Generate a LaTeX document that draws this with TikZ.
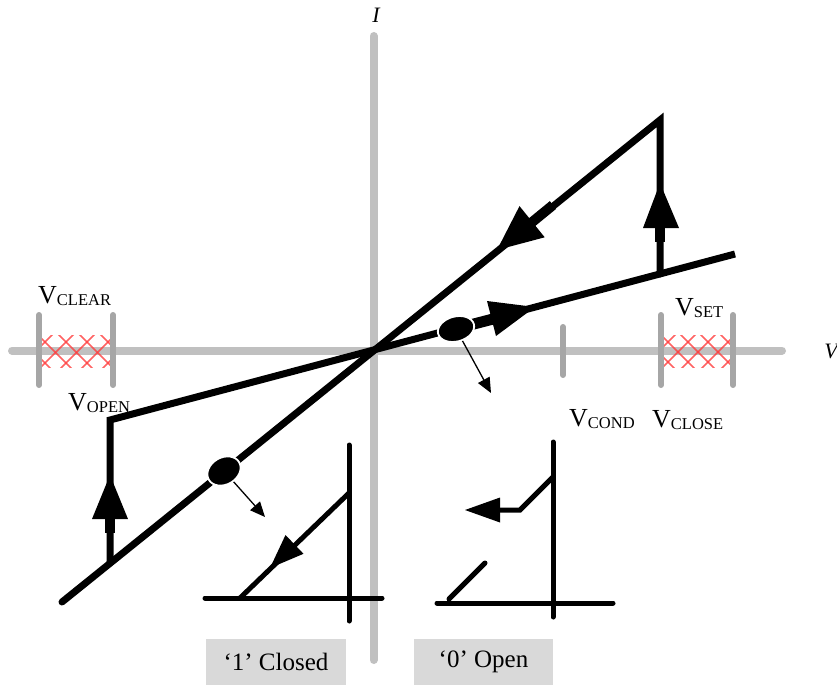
\documentclass[tikz,border=0pt]{standalone}
\usepackage{fontspec}
\setmainfont{Liberation Serif}
\usetikzlibrary{arrows.meta,shapes.geometric}
\definecolor{axisgray}{RGB}{192,192,192}
\definecolor{tickgray}{RGB}{166,166,166}
\definecolor{hatchred}{RGB}{255,60,60}
\definecolor{boxgray}{RGB}{217,217,217}
\newcommand{\vlab}[1]{\fontsize{26}{30}\selectfont V\raisebox{-2.5pt}{\fontsize{16.5}{18}\selectfont #1}}
\begin{document}
\begin{tikzpicture}[x=1pt,y=-1pt,
  axisline/.style={axisgray, line width=8, line cap=round},
  vtick/.style={tickgray, line width=6, line cap=round},
  hatch/.style={hatchred, line width=1.6, opacity=0.8},
  curve/.style={black, line width=7},
  sw/.style={black, line width=5, line cap=round},
  lab/.style={inner sep=0, anchor=base west},
  axlab/.style={inner sep=0, font=\fontsize{22}{24}\selectfont\itshape},
  blob/.style={ellipse, fill=black, draw=white, line width=1.8, inner sep=0},
  thinarrow/.style={line width=1.3, -{Triangle[length=15pt,width=13pt]}},
  statebox/.style={fill=boxgray, minimum height=46, inner sep=0, font=\fontsize{25}{28}\selectfont}
]
\useasboundingbox (0,0) rectangle (837,685);

% axes
\draw[axisline] (12,350.5) -- (782,350.5);
\draw[axisline] (373.5,36) -- (373.5,660);

% hatched regions
\begin{scope}
  \clip (41,335) rectangle (111,367);
  \foreach \k in {-3,...,6} {
    \draw[hatch] (45+21*\k-40,302) -- (45+21*\k+40,382);
    \draw[hatch] (45+21*\k+40,302) -- (45+21*\k-40,382);
  }
\end{scope}
\begin{scope}
  \clip (663,335) rectangle (731,367);
  \foreach \k in {-3,...,6} {
    \draw[hatch] (668+20*\k-40,302) -- (668+20*\k+40,382);
    \draw[hatch] (668+20*\k+40,302) -- (668+20*\k-40,382);
  }
\end{scope}

% ticks
\draw[vtick] (39,315) -- (39,385);
\draw[vtick] (113,315) -- (113,385);
\draw[vtick] (661,315) -- (661,385);
\draw[vtick] (733,315) -- (733,385);
\draw[vtick] (563,327) -- (563,375);

% hysteresis curve
\coordinate (O) at (373,350);
\coordinate (A) at (110,420);
\coordinate (B) at (735,254);
\coordinate (C) at (660,120);
\coordinate (D) at (62,602);
\coordinate (E) at (110,562);
\coordinate (F) at (660,274);
\draw[curve] (E) -- (A) -- (B);
\draw[curve, line cap=round] (D) -- (C) -- (F);

% big arrowheads
\fill (660,183) -- (643,228) -- (679,228) -- cycle;
\fill (655,226) rectangle (665,242);
\fill (110,475) -- (92,519) -- (128,519) -- cycle;
\fill (105,517) rectangle (115,533);
\fill (497,250) -- (544.7,237.3) -- (519.5,206.1) -- cycle;
\draw[line width=10] (531,223) -- (553,205);
\fill (535,307) -- (496,336) -- (487,301) -- cycle;
\draw[line width=11] (470,325) -- (493,319);

% state markers
\node[blob, minimum width=37, minimum height=25, rotate=15] (e1) at (456,329) {};
\node[blob, minimum width=35, minimum height=27, rotate=30] (e2) at (224,471) {};
\coordinate (t1) at (491,393);
\coordinate (t2) at (265,517);
\draw[thinarrow] (e1) -- (t1);
\draw[thinarrow] (e2) -- (t2);

% closed switch
\draw[sw] (205,598) -- (382,598);
\draw[sw] (349,445) -- (349,621);
\draw[sw] (349,493) -- (240,598);
\fill (270,568) -- (303.5,553.8) -- (285.5,535) -- cycle;

% open switch
\draw[sw] (437,603) -- (613,603);
\draw[sw] (553,442) -- (553,617);
\draw[sw, line cap=butt] (553,477) -- (520,510) -- (498,510);
\fill (465,510) -- (500,497.5) -- (500,522.5) -- cycle;
\draw[sw] (449,599) -- (485,563);

% state boxes
\node[statebox, minimum width=140] (closed) at (276,662) {‘1’ Closed};
\node[statebox, minimum width=139] (open) at (483.5,662) {‘0’ Open};

% labels
\node[lab] (vclear) at (38,303) {\vlab{CLEAR}};
\node[lab] (vopen) at (68,410) {\vlab{OPEN}};
\node[lab] (vset) at (675,315) {\vlab{SET}};
\node[lab] (vcond) at (569,426) {\vlab{COND}};
\node[lab] (vclose) at (652,427) {\vlab{CLOSE}};
\node[axlab] (ilab) at (376,15) {I};
\node[axlab] (vlabel) at (831,351) {V};
\end{tikzpicture}
\end{document}
